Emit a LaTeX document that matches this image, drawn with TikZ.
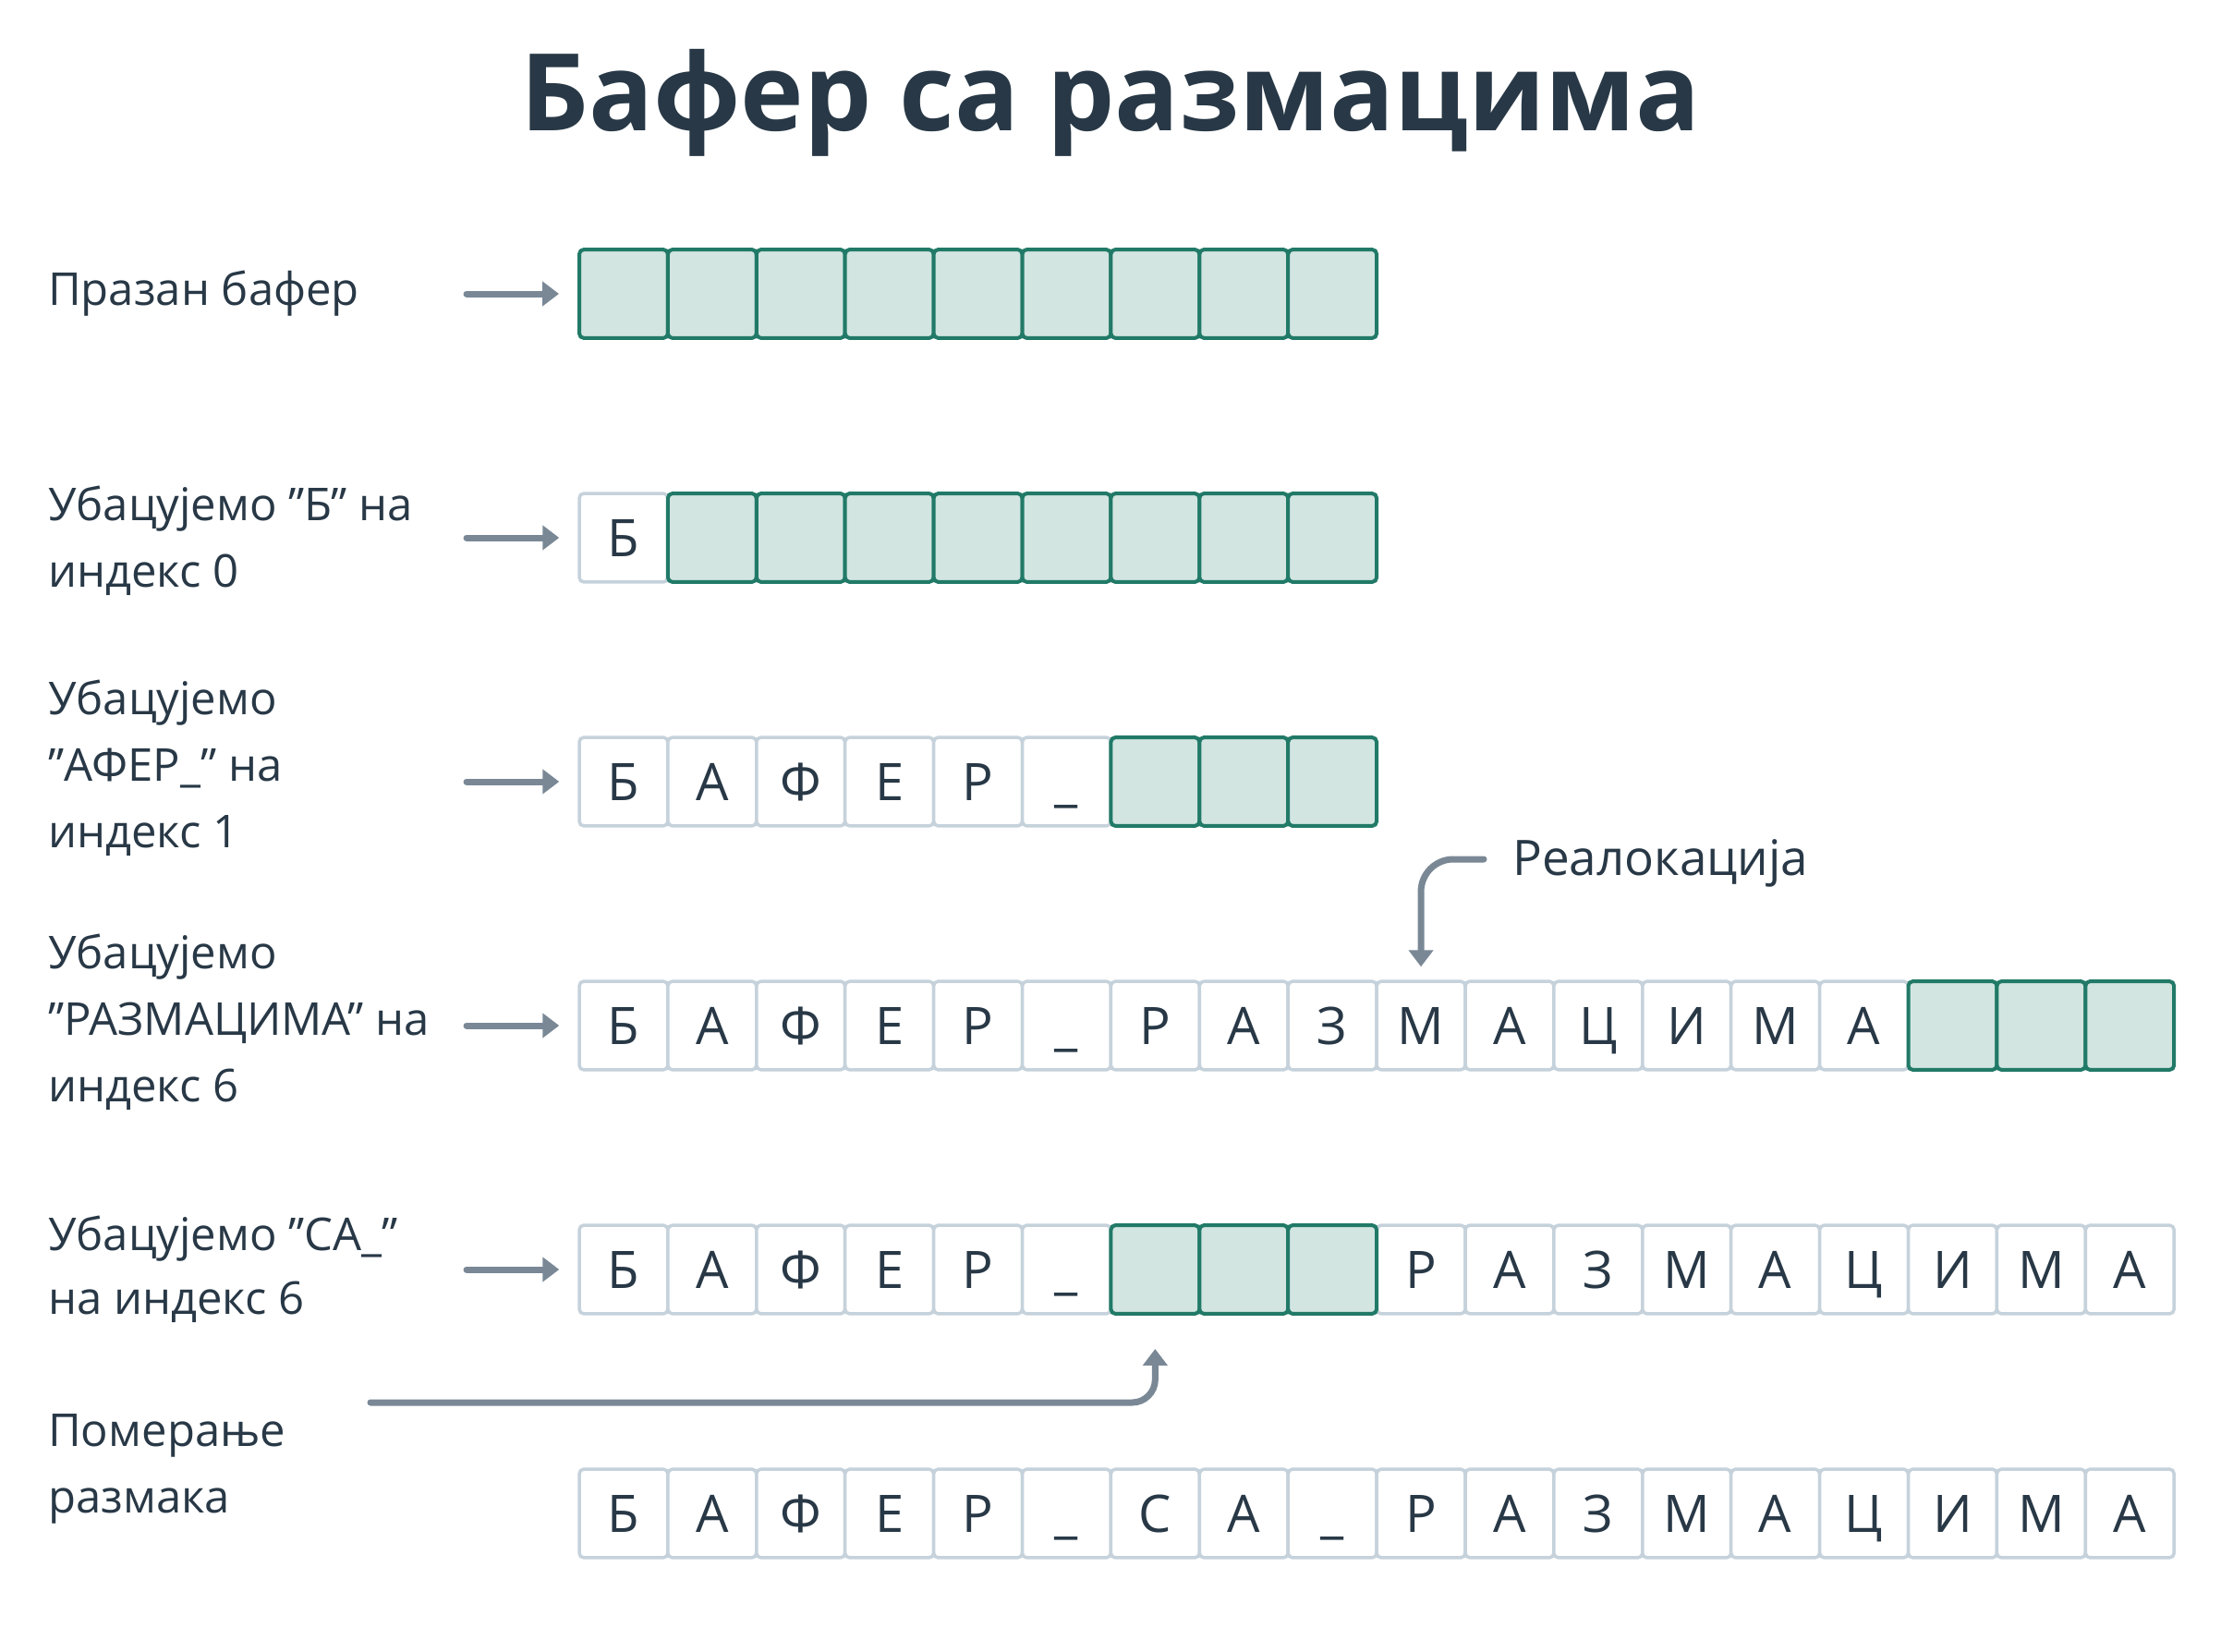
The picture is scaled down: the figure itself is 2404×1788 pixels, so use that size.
\documentclass[tikz,border=0pt]{standalone}
\usepackage{fontspec}
\setmainfont{Open Sans}
\usetikzlibrary{arrows.meta}
\definecolor{ink}{HTML}{283846}
\definecolor{arrowc}{HTML}{7A8896}
\definecolor{cellgray}{HTML}{C6D2DB}
\definecolor{cellgreen}{HTML}{217A67}
\definecolor{greenfill}{HTML}{D2E5E1}
\tikzset{
  wcell/.style={draw=cellgray, line width=3.5pt, fill=white, rounded corners=5pt,
    minimum width=95.9pt, minimum height=95.9pt, inner sep=0pt,
    text height=40pt, text depth=0pt, text=ink, font=\fontsize{56}{60}\selectfont},
  gcell/.style={draw=cellgreen, line width=4pt, fill=greenfill, rounded corners=5pt,
    minimum width=95.9pt, minimum height=95.9pt, inner sep=0pt},
  lbl/.style={anchor=base west, inner sep=0pt, text=ink, font=\fontsize{49}{58}\selectfont},
  conn/.style={draw=arrowc, line width=7pt, line cap=round,
    -{Triangle[length=18pt,width=26pt]}},
}
\begin{document}
\begin{tikzpicture}[x=1pt,y=-1pt]
\useasboundingbox[fill=white] (0,0) rectangle (2404,1788);

% title
\node[anchor=base, inner sep=0pt, text=ink, font=\fontsize{116}{130}\selectfont\bfseries] (title) at (1202,141) {Бафер са размацима};

% labels
\node[lbl] (l1) at (52,330) {Празан бафер};
\node[lbl] (l2a) at (52,563) {Убацујемо ”Б” на};
\node[lbl] (l2b) at (52,635) {индекс 0};
\node[lbl] (l3a) at (52,773) {Убацујемо};
\node[lbl] (l3b) at (52,845) {”АФЕР\_” на};
\node[lbl] (l3c) at (52,917) {индекс 1};
\node[lbl] (l4a) at (52,1048) {Убацујемо};
\node[lbl] (l4b) at (52,1120) {”РАЗМАЦИМА” на};
\node[lbl] (l4c) at (52,1192) {индекс 6};
\node[lbl] (l5a) at (52,1353) {Убацујемо ”СА\_”};
\node[lbl] (l5b) at (52,1422) {на индекс 6};
\node[lbl] (l6a) at (52,1565) {Померање};
\node[lbl] (l6b) at (52,1637) {размака};

% row 1
\foreach \i in {0,...,8} \node[gcell] (c1-\i) at ({674.95+95.9*\i},318) {};
% row 2
\node[wcell] (c2-0) at (674.95,582) {Б};
\foreach \i in {1,...,8} \node[gcell] (c2-\i) at ({674.95+95.9*\i},582) {};
% row 3
\foreach \t [count=\i from 0] in {Б,А,Ф,Е,Р,\_} \node[wcell] (c3-\i) at ({674.95+95.9*\i},846) {\t};
\foreach \i in {6,7,8} \node[gcell] (c3-\i) at ({674.95+95.9*\i},846) {};
% row 4
\foreach \t [count=\i from 0] in {Б,А,Ф,Е,Р,\_,Р,А,З,М,А,Ц,И,М,А} \node[wcell] (c4-\i) at ({674.95+95.9*\i},1110) {\t};
\foreach \i in {15,16,17} \node[gcell] (c4-\i) at ({674.95+95.9*\i},1110) {};
% row 5
\foreach \t [count=\i from 0] in {Б,А,Ф,Е,Р,\_} \node[wcell] (c5-\i) at ({674.95+95.9*\i},1374) {\t};
\foreach \t [count=\i from 9] in {Р,А,З,М,А,Ц,И,М,А} \node[wcell] (c5-\i) at ({674.95+95.9*\i},1374) {\t};
\foreach \i in {6,7,8} \node[gcell] (c5-\i) at ({674.95+95.9*\i},1374) {};
% row 6
\foreach \t [count=\i from 0] in {Б,А,Ф,Е,Р,\_,С,А,\_,Р,А,З,М,А,Ц,И,М,А} \node[wcell] (c6-\i) at ({674.95+95.9*\i},1638) {\t};

% row arrows
\foreach \r/\y in {1/318,2/582,3/846,4/1110,5/1374} {
  \coordinate (a\r) at (505,\y);
  \draw[conn] (a\r) -- ([xshift=-20pt]c\r-0.west);
}

% reallocation
\node[anchor=base west, inner sep=0pt, text=ink, font=\fontsize{53}{60}\selectfont] (rl) at (1637,947) {Реалокација};
\draw[conn, rounded corners=35pt] ([shift={(-31pt,17pt)}]rl.base west) -| ([yshift=14pt]c4-9.north);

% shifting
\coordinate (s0) at (401,1518);
\draw[conn, rounded corners=25pt] (s0) -| ([yshift=-36pt]c5-6.south);
\end{tikzpicture}
\end{document}
